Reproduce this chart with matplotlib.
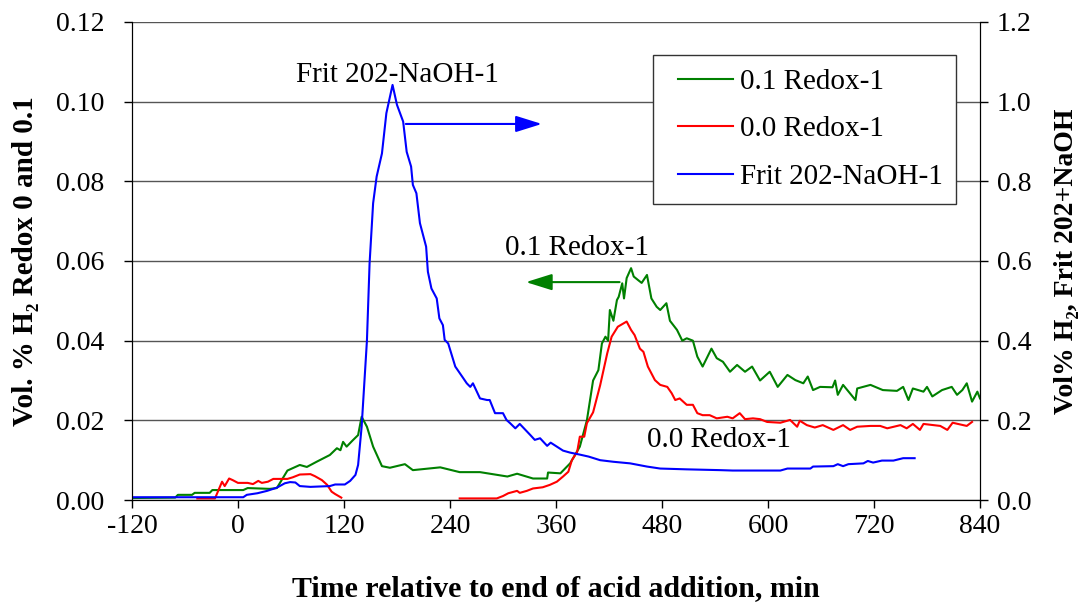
import numpy as np
import matplotlib
matplotlib.use("Agg")
import matplotlib.pyplot as plt
from matplotlib.lines import Line2D
from matplotlib.legend_handler import HandlerLine2D

plt.rcParams['font.family'] = ['Liberation Serif', 'DejaVu Serif']
plt.rcParams['font.size'] = 20

# 0.1 Redox-1 (left axis)
t_green = [-120, -71, -68, -52, -49, -32, -29, 6, 11, 36, 44, 56, 70, 78, 89, 104, 112, 116, 119,
           123, 130, 136, 140, 146, 153, 163, 172, 189, 198, 229, 251, 274, 305, 316, 334, 350,
           351, 365, 376, 387, 395, 402, 408, 412, 416, 419, 421, 425, 429, 431, 435, 437, 440,
           445, 448, 453, 457, 463, 468, 474, 478, 485, 489, 497, 503, 508, 515, 520, 526, 536,
           542, 549, 557, 565, 574, 582, 591, 602, 611, 622, 631, 640, 645, 651, 659, 673, 676,
           679, 685, 699, 701, 716, 730, 746, 753, 759, 764, 776, 780, 786, 797, 808, 814, 820,
           825, 831, 837, 840]
v_green = [0.0005, 0.0006, 0.0013, 0.0013, 0.0018, 0.0018, 0.0025, 0.0025, 0.003, 0.0028, 0.003,
           0.0074, 0.0088, 0.0083, 0.0096, 0.0113, 0.013, 0.0125, 0.0146, 0.0134, 0.015, 0.0163,
           0.0209, 0.0184, 0.0134, 0.0085, 0.0081, 0.009, 0.0075, 0.0082, 0.007, 0.007, 0.0059,
           0.0066, 0.0054, 0.0054, 0.0069, 0.0067, 0.0092, 0.0134, 0.020, 0.030, 0.0326, 0.0393,
           0.041, 0.040, 0.0477, 0.045, 0.0502, 0.051, 0.0544, 0.0506, 0.0557, 0.0582, 0.0561,
           0.0552, 0.0545, 0.0565, 0.0506, 0.0485, 0.0477, 0.0494, 0.045, 0.0427, 0.040, 0.0406,
           0.040, 0.036, 0.0335, 0.038, 0.0356, 0.0347, 0.0322, 0.0339, 0.0322, 0.0335, 0.030,
           0.0322, 0.0284, 0.0314, 0.0301, 0.0293, 0.031, 0.0276, 0.0284, 0.0283, 0.030, 0.0264,
           0.0289, 0.0251, 0.028, 0.0289, 0.0276, 0.0274, 0.0284, 0.0251, 0.028, 0.0272, 0.0284,
           0.026, 0.0276, 0.0284, 0.0264, 0.0276, 0.0293, 0.0247, 0.0272, 0.0255]

# 0.0 Redox-1 (left axis), gap where no data
t_red = [-46, -26, -18, -15, -10, -6, 0, 11, 17, 23, 27, 34, 40, 56, 62, 70, 82, 87, 95, 101,
         106, 110, 117, np.nan,
         251, 293, 300, 306, 316, 319, 327, 334, 345, 353, 361, 368, 374, 378, 384, 387, 392,
         395, 402, 410, 418, 423, 430, 440, 445, 449, 455, 459, 464, 472, 478, 486, 491, 495,
         500, 508, 515, 520, 526, 534, 542, 554, 560, 568, 574, 583, 591, 599, 614, 625, 633,
         636, 644, 653, 662, 674, 685, 693, 701, 716, 727, 735, 750, 757, 764, 772, 776, 795,
         803, 809, 825, 831]
v_red = [0.0004, 0.0004, 0.0046, 0.0035, 0.0054, 0.005, 0.0043, 0.0043, 0.004, 0.0048, 0.0043,
         0.0046, 0.0053, 0.0053, 0.0057, 0.0064, 0.0065, 0.006, 0.005, 0.0038, 0.0021, 0.0015,
         0.0006, np.nan,
         0.0004, 0.0004, 0.001, 0.0017, 0.0023, 0.0018, 0.0023, 0.0029, 0.0032, 0.0038, 0.0046,
         0.0059, 0.0071, 0.010, 0.0121, 0.0159, 0.0159, 0.0193, 0.022, 0.0288, 0.0368, 0.041,
         0.0435, 0.0448, 0.0427, 0.0414, 0.038, 0.0372, 0.0335, 0.0301, 0.0289, 0.0284, 0.0268,
         0.0251, 0.0255, 0.0239, 0.0239, 0.0218, 0.0213, 0.0213, 0.0205, 0.0209, 0.0205, 0.0218,
         0.0203, 0.0205, 0.0203, 0.0196, 0.0194, 0.0201, 0.0184, 0.0199, 0.0188, 0.0182, 0.0188,
         0.0176, 0.0188, 0.0176, 0.0184, 0.0186, 0.0186, 0.018, 0.0188, 0.018, 0.0191, 0.0176,
         0.0191, 0.0186, 0.0176, 0.0194, 0.0186, 0.0196]

# Frit 202-NaOH-1 (right axis)
t_blue = [-120, 6, 10, 22, 33, 44, 53, 59, 65, 70, 82, 104, 110, 121, 127, 133, 136, 140, 146,
          149, 153, 157, 163, 168, 175, 180, 187, 191, 196, 198, 202, 206, 213, 215, 219, 225,
          228, 232, 234, 238, 246, 255, 259, 263, 266, 274, 282, 285, 291, 300, 304, 308, 314,
          319, 331, 336, 342, 350, 354, 361, 368, 376, 387, 397, 410, 425, 444, 463, 478, 508,
          546, 560, 614, 622, 648, 651, 674, 679, 685, 691, 708, 713, 719, 729, 742, 753, 766]
v_blue = [0.007, 0.007, 0.013, 0.017, 0.023, 0.031, 0.042, 0.045, 0.044, 0.035, 0.033, 0.035,
          0.039, 0.039, 0.048, 0.063, 0.088, 0.184, 0.40, 0.594, 0.745, 0.812, 0.870, 0.971,
          1.042, 0.992, 0.950, 0.874, 0.837, 0.791, 0.770, 0.695, 0.636, 0.573, 0.531, 0.506,
          0.456, 0.439, 0.402, 0.393, 0.335, 0.306, 0.293, 0.284, 0.293, 0.255, 0.251, 0.251,
          0.218, 0.218, 0.201, 0.193, 0.180, 0.191, 0.163, 0.151, 0.155, 0.136, 0.144, 0.134,
          0.124, 0.119, 0.114, 0.109, 0.100, 0.096, 0.092, 0.084, 0.079, 0.077, 0.075, 0.074,
          0.074, 0.079, 0.079, 0.084, 0.085, 0.090, 0.085, 0.090, 0.092, 0.098, 0.094, 0.099,
          0.099, 0.105, 0.105]

x_ticks = [-120, 0, 120, 240, 360, 480, 600, 720, 840]
y_ticks = [0.00, 0.02, 0.04, 0.06, 0.08, 0.10, 0.12]
y2_ticks = [0.0, 0.2, 0.4, 0.6, 0.8, 1.0, 1.2]

fig = plt.figure(figsize=(10.86, 6.02), dpi=100)
ax = fig.add_axes([0.1215, 0.1694, 0.7809, 0.7941])
ax2 = ax.twinx()

ax.set_xlim(-120, 840)
ax.set_ylim(0, 0.12)
ax2.set_ylim(0, 1.2)

for y in y_ticks:
    ax.axhline(y, color='#555555', lw=1.0, zorder=0)

g, = ax.plot(t_green, v_green, color='#008000', lw=1.5)
r, = ax.plot(t_red, v_red, color='#ff0000', lw=1.5)
b, = ax2.plot(t_blue, v_blue, color='#0000ff', lw=1.5)

ax.set_xticks(x_ticks)
ax.set_xticklabels([str(v) for v in x_ticks])
ax.set_yticks(y_ticks)
ax.set_yticklabels(['%.2f' % v for v in y_ticks])
ax2.set_yticks(y2_ticks)
ax2.set_yticklabels(['%.1f' % v for v in y2_ticks])

for a in (ax, ax2):
    a.spines['top'].set_visible(False)
    a.tick_params(direction='out', length=6, width=1, colors='black', labelsize=20)
ax.tick_params(axis='x', pad=4)
ax.tick_params(axis='y', pad=14)
ax2.tick_params(axis='y', pad=6)

ax.set_xlabel('Time relative to end of acid addition, min', fontweight='bold',
              fontsize=21.5, labelpad=26)
ax.set_ylabel('Vol. % H₂ Redox 0 and 0.1', fontweight='bold', fontsize=21, labelpad=12)
ax2.set_ylabel('Vol% H₂, Frit 202+NaOH', fontweight='bold', fontsize=20, labelpad=16)

# annotations
ax2.text(180, 1.067, 'Frit 202-NaOH-1', ha='center', va='center', fontsize=21)
ax2.annotate('', xy=(344, 0.944), xytext=(190, 0.944),
             arrowprops=dict(arrowstyle='-|>,head_length=0.8,head_width=0.25', color='#0000ff', lw=1.5,
                             shrinkA=0, shrinkB=0))
ax2.text(384, 0.633, '0.1 Redox-1', ha='center', va='center', fontsize=21)
ax2.annotate('', xy=(326, 0.547), xytext=(432, 0.547),
             arrowprops=dict(arrowstyle='-|>,head_length=0.8,head_width=0.25', color='#008000', lw=1.5,
                             shrinkA=0, shrinkB=0))
ax2.text(545, 0.151, '0.0 Redox-1', ha='center', va='center', fontsize=21)

leg = ax2.legend([g, r, b], ['0.1 Redox-1', '0.0 Redox-1', 'Frit 202-NaOH-1'],
                 loc='upper left', bbox_to_anchor=(0.614, 0.931), borderaxespad=0,
                 fancybox=False, edgecolor='#333333', framealpha=1, fontsize=21,
                 handlelength=2.27, labelspacing=0.72, borderpad=0.47, handletextpad=0.24,
                 handler_map={Line2D: HandlerLine2D(xpad=0.39)})
leg.get_frame().set_linewidth(1.0)

fig.savefig('out.png', dpi=100)
